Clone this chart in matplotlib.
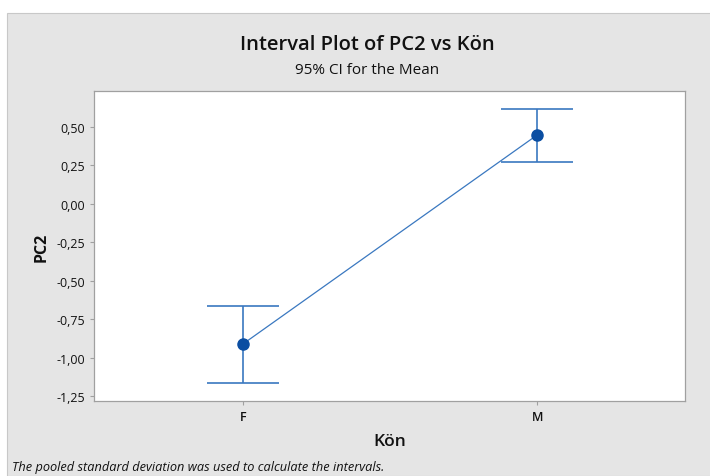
import matplotlib.pyplot as plt
from matplotlib.patches import Rectangle
from matplotlib.ticker import FuncFormatter

# Interval data
groups = ['F', 'M']
means = [-0.909, 0.448]
upper = [-0.662, 0.617]
lower = [-1.162, 0.273]
y_ticks = [0.50, 0.25, 0.00, -0.25, -0.50, -0.75, -1.00, -1.25]

plt.rcParams['font.family'] = ['Open Sans', 'DejaVu Sans']

W, H = 710, 477
fig = plt.figure(figsize=(7.1, 4.77), dpi=100, facecolor='white')

# grey Minitab-style panel
fig.patches.append(Rectangle((7 / W, 0), 1, 1 - 14 / H, transform=fig.transFigure,
                             facecolor='#e5e5e5', edgecolor='#c8c8c8', lw=0.8, zorder=-5))

ax = fig.add_axes([94 / W, 1 - 402 / H, (685 - 94) / W, (402 - 92) / H])
ax.set_zorder(2)
ax.set_facecolor('white')
for s in ax.spines.values():
    s.set_color('#a0a0a0')
    s.set_linewidth(0.9)

x = [1, 2]
err_lo = [m - l for m, l in zip(means, lower)]
err_hi = [u - m for m, u in zip(means, upper)]
ax.errorbar(x, means, yerr=[err_lo, err_hi], fmt='none', ecolor='#3a78c0',
            elinewidth=1.2, capsize=26, capthick=1.2, zorder=2)
ax.plot(x, means, color='#3a78c0', lw=0.9, zorder=3)
ax.plot(x, means, 'o', color='#0b4ea2', ms=8, zorder=4)

ax.set_xlim(0.493, 2.503)
ax.set_ylim(-1.28, 0.734)
ax.set_xticks(x)
ax.set_xticklabels(groups, fontweight='semibold')
ax.set_yticks(y_ticks)
ax.yaxis.set_major_formatter(FuncFormatter(lambda v, p: f"{v:.2f}".replace('.', ',')))
ax.tick_params(colors='#a0a0a0', labelcolor='#111111', labelsize=9, length=3, width=0.8)

ax.set_ylabel('PC2', fontsize=11.5, fontweight='bold', color='#111111', labelpad=5)
ax.set_xlabel('Kön', fontsize=12.5, fontweight='semibold', color='#111111', labelpad=7)

cx = 367 / W
fig.text(cx, 1 - 45 / H, 'Interval Plot of PC2 vs Kön', ha='center', va='center',
         fontsize=14.5, fontweight='semibold', color='#111111')
fig.text(cx, 1 - 71 / H, '95% CI for the Mean', ha='center', va='center',
         fontsize=11, color='#111111')
fig.text(12 / W, 1 - 468 / H, 'The pooled standard deviation was used to calculate the intervals.',
         ha='left', va='center', fontsize=9.2, style='italic', color='#111111')

fig.savefig('out.png', dpi=100, facecolor='white')
